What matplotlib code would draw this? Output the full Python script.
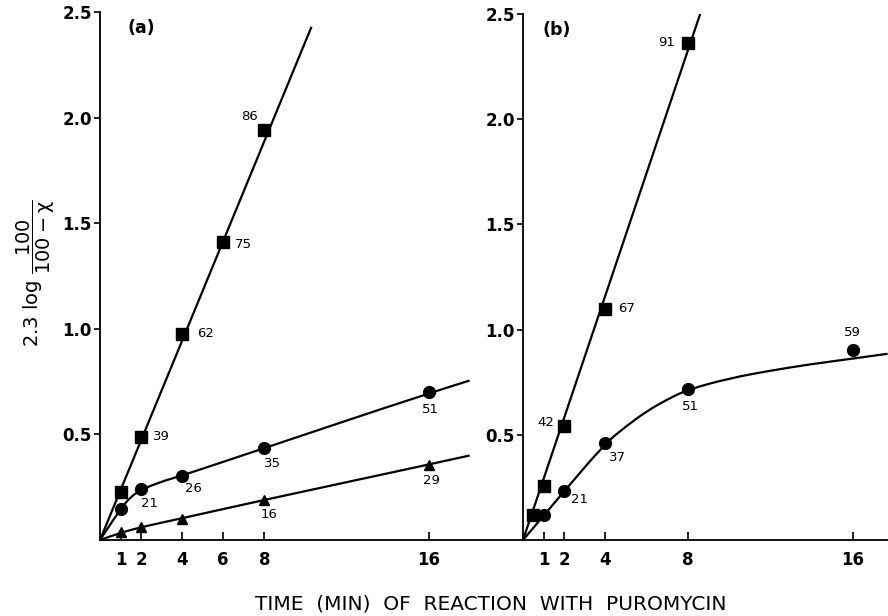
import matplotlib
matplotlib.use("Agg")
import matplotlib.pyplot as plt
from matplotlib.path import Path
from matplotlib.patches import PathPatch

# ---------------- data ----------------
# panel (a)
a_sq_x = [1, 2, 4, 6, 8]
a_sq_y = [0.225, 0.49, 0.975, 1.41, 1.94]
a_sq_lab = ["", "39", "62", "75", "86"]

a_ci_x = [1, 2, 4, 8, 16]
a_ci_y = [0.147, 0.24, 0.305, 0.435, 0.70]
a_ci_lab = ["", "21", "26", "35", "51"]

a_tr_x = [1, 2, 4, 8, 16]
a_tr_y = [0.037, 0.06, 0.10, 0.19, 0.357]
a_tr_lab = ["", "", "", "16", "29"]

# fitted curves (panel a)
a_sq_fit_x = [0, 10.3]
a_sq_fit_y = [0, 2.43]
a_ci_fit_x = [0, 1, 1.5, 2, 3, 4, 8, 16, 18]
a_ci_fit_y = [0, 0.147, 0.205, 0.238, 0.277, 0.305, 0.435, 0.695, 0.755]
a_tr_fit_x = [0, 1, 2, 4, 8, 16, 18]
a_tr_fit_y = [0, 0.034, 0.061, 0.103, 0.19, 0.357, 0.40]

# panel (b)
b_sq_x = [0.5, 1, 2, 4, 8]
b_sq_y = [0.12, 0.257, 0.54, 1.10, 2.36]
b_sq_lab = ["", "", "42", "67", "91"]

b_ci_x = [1, 2, 4, 8, 16]
b_ci_y = [0.12, 0.235, 0.46, 0.72, 0.905]
b_ci_lab = ["", "21", "37", "51", "59"]

b_sq_fit_x = [0, 8.6]
b_sq_fit_y = [0, 2.5]
b_ci_fit_x = [0, 1, 2, 4, 5, 6, 7, 8, 10, 12, 14, 16, 17.7]
b_ci_fit_y = [0, 0.115, 0.232, 0.46, 0.54, 0.612, 0.668, 0.715, 0.768, 0.805, 0.836, 0.862, 0.885]

a_xticks = [1, 2, 4, 6, 8, 16]
b_xticks = [1, 2, 4, 8, 16]
yticks = [0.5, 1.0, 1.5, 2.0, 2.5]
ytick_labels = ["0.5", "1.0", "1.5", "2.0", "2.5"]

# ---------------- drawing ----------------
plt.rcParams['font.family'] = ['DejaVu Sans']
W, H = 888, 616
fig = plt.figure(figsize=(W / 100, H / 100), dpi=100)

def px_axes(l, r, t, b):
    return [l / W, 1 - b / H, (r - l) / W, (b - t) / H]

axa = fig.add_axes(px_axes(100, 523, 12, 540))
axb = fig.add_axes(px_axes(523, 888, 14, 540))

def smooth_curve(ax, xs, ys, lw=1.6):
    pts = list(zip(xs, ys))
    if len(pts) == 2:
        ax.plot(xs, ys, color='black', lw=lw, solid_capstyle='butt', zorder=2)
        return
    verts = [pts[0]]
    codes = [Path.MOVETO]
    m = ((pts[0][0] + pts[1][0]) / 2, (pts[0][1] + pts[1][1]) / 2)
    verts.append(m); codes.append(Path.LINETO)
    for i in range(1, len(pts) - 1):
        nm = ((pts[i][0] + pts[i + 1][0]) / 2, (pts[i][1] + pts[i + 1][1]) / 2)
        if i == len(pts) - 2:
            nm = pts[i + 1]
        verts += [pts[i], nm]
        codes += [Path.CURVE3, Path.CURVE3]
    patch = PathPatch(Path(verts, codes), fill=False, edgecolor='black', lw=lw,
                      capstyle='butt', zorder=2)
    ax.add_patch(patch)

def annotate(ax, xs, ys, labs, offsets, fs=9.5):
    for x, y, lab, off in zip(xs, ys, labs, offsets):
        if not lab:
            continue
        dx, dy, ha = off
        ax.annotate(lab, (x, y), xytext=(dx, dy), textcoords='offset pixels',
                    ha=ha, va='center', fontsize=fs, color='black')

for ax, xmax, xt in ((axa, 20.6, a_xticks), (axb, 17.72, b_xticks)):
    ax.set_xlim(0, xmax)
    ax.set_ylim(0, 2.5)
    ax.spines['top'].set_visible(False)
    ax.spines['right'].set_visible(False)
    for s in ('left', 'bottom'):
        ax.spines[s].set_linewidth(1.3)
    ax.set_xticks(xt)
    ax.set_xticklabels([str(v) for v in xt])
    ax.set_yticks(yticks)
    ax.set_yticklabels(ytick_labels)
    ax.tick_params(axis='x', direction='in', length=6, width=1.2, pad=8, labelsize=12)
    ax.tick_params(axis='y', direction='out', length=4, width=1.2, pad=2, labelsize=12)
    for lab in ax.get_xticklabels() + ax.get_yticklabels():
        lab.set_fontweight('bold')
    ax.patch.set_alpha(0)

# panel a
smooth_curve(axa, a_sq_fit_x, a_sq_fit_y)
smooth_curve(axa, a_ci_fit_x, a_ci_fit_y)
smooth_curve(axa, a_tr_fit_x, a_tr_fit_y)
axa.plot(a_sq_x, a_sq_y, 's', color='black', ms=8, zorder=3, clip_on=False)
axa.plot(a_ci_x, a_ci_y, 'o', color='black', ms=8.5, zorder=3, clip_on=False)
axa.plot(a_tr_x, a_tr_y, '^', color='black', ms=7.5, zorder=3, clip_on=False)

annotate(axa, a_sq_x, a_sq_y, a_sq_lab,
         [None, (12, 0, 'left'), (15, 1, 'left'), (12, -2, 'left'), (-6, 14, 'right')])
annotate(axa, a_ci_x, a_ci_y, a_ci_lab,
         [None, (8, -14, 'center'), (11, -13, 'center'), (8, -15, 'center'), (2, -17, 'center')])
annotate(axa, a_tr_x, a_tr_y, a_tr_lab,
         [None, None, None, (5, -15, 'center'), (3, -16, 'center')])

axa.text(0.097, 0.97, "(a)", transform=axa.transAxes, fontsize=12.5, fontweight='bold',
         ha='center', va='center')

# panel b
smooth_curve(axb, b_sq_fit_x, b_sq_fit_y)
smooth_curve(axb, b_ci_fit_x, b_ci_fit_y)
axb.plot(b_sq_x, b_sq_y, 's', color='black', ms=8, zorder=3, clip_on=False)
axb.plot(b_ci_x, b_ci_y, 'o', color='black', ms=8.5, zorder=3, clip_on=False)

annotate(axb, b_sq_x, b_sq_y, b_sq_lab,
         [None, None, (-10, 4, 'right'), (13, 0, 'left'), (-13, 1, 'right')])
annotate(axb, b_ci_x, b_ci_y, b_ci_lab,
         [None, (15, -9, 'center'), (12, -14, 'center'), (3, -18, 'center'), (0, 17, 'center')])

axb.text(0.093, 0.97, "(b)", transform=axb.transAxes, fontsize=12.5, fontweight='bold',
         ha='center', va='center')

# axis labels
fig.text(491 / W, 1 - 604 / H, "TIME  (MIN)  OF  REACTION  WITH  PUROMYCIN",
         ha='center', va='center', fontsize=14.5)
fig.text(36 / W, 1 - 273 / H, r"2.3 log $\mathregular{\dfrac{100}{100-\chi}}$",
         rotation=90, ha='center', va='center', fontsize=14)

fig.savefig("out.png", dpi=100)
